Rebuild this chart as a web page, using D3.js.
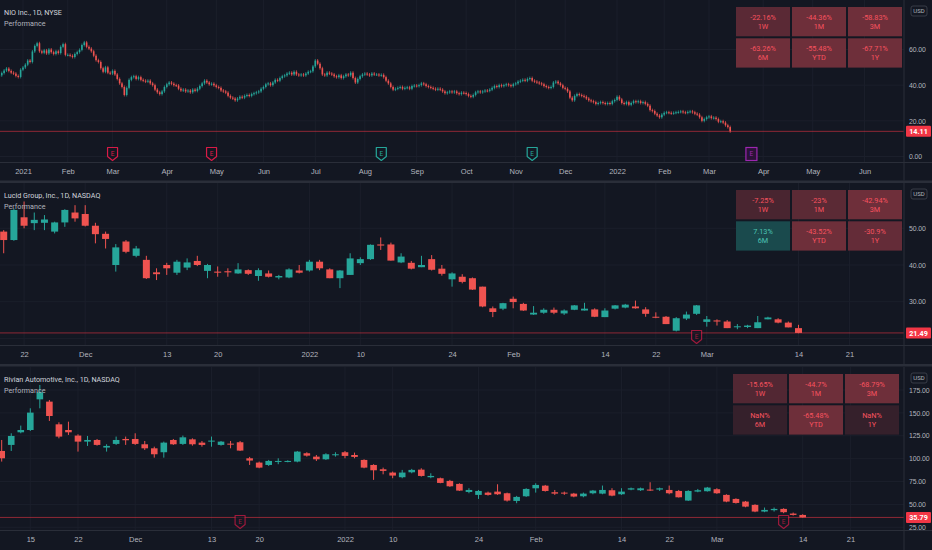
<!DOCTYPE html>
<html lang="en">
  <head>
    <meta charset="UTF-8" />
    <title>EV performance</title>
    <script src="https://cdn.jsdelivr.net/npm/d3@7.9.0/dist/d3.min.js"></script>
    <style>
      body { margin: 0; background: #131722; }
      svg { display: block; font-family: Roboto, 'Noto Sans', sans-serif; }
    </style>
  </head>
  <body>
    <svg width="932" height="550"></svg>
  </body>

  <script>
    // exchange holidays (only past ones: future bars are plain weekdays)
    var holidays = ['2020-12-25', '2021-01-01', '2021-01-18', '2021-02-15', '2021-04-02', '2021-05-31',
      '2021-07-05', '2021-09-06', '2021-11-25', '2021-12-24', '2022-01-17', '2022-02-21'];
    var perfLabels = ['1W', '1M', '3M', '6M', 'YTD', '1Y'];

    // ---- NIO, daily closes from 2020-12-17 ----
    var nioTitle = 'NIO Inc., 1D, NYSE';
    var nioStart = '2020-12-17';
    var nioFirstOpen = 45.0;
    var nioClose = [
      45.5, 46.8, 48.2, 49.3, 48.0, 47.0, 46.5, 45.2, 44.6, 48.7, // dec
      49.9, 51.5, 53.8, 53.0, 58.9, 62.0, 63.5, 59.0, 58.2, 59.5, 57.8, 60.0, 58.5, 57.5, 59.0, 58.0, 61.5, 63.0, 57.0, // jan
      57.0, 56.5, 55.8, 57.5, 58.5, 59.8, 62.5, 64.0, 61.5, 60.5, 59.0, 56.5, 54.0, 53.0, 49.5, 47.5, 50.0, 47.0, 46.5, // feb
      48.0, 46.0, 43.5, 41.0, 39.0, 34.5, 38.5, 43.0, 44.5, 45.0, 43.5, 44.5, 43.0, 42.5, 42.0, 42.5, 41.0, 40.0, 37.5, 36.0, 35.0, 36.5, 39.0, // mar
      40.5, 41.5, 40.8, 40.0, 39.8, 38.0, 37.0, 37.5, 36.5, 37.0, 36.0, 37.5, 36.8, 38.0, 39.5, 41.0, 42.5, 41.5, 40.5, 40.8, 39.9, // apr
      39.0, 38.5, 37.0, 36.5, 35.8, 34.0, 33.0, 32.5, 31.5, 32.5, 33.5, 33.0, 34.0, 34.5, 34.0, 35.0, 35.5, 36.0, 36.5, 38.0, // may
      39.0, 40.5, 41.0, 40.0, 41.5, 43.0, 42.5, 44.0, 45.0, 45.5, 46.5, 47.0, 46.0, 47.5, 46.0, 45.5, 46.0, 45.5, 46.5, 47.5, 47.8, 50.5, // jun
      53.8, 52.0, 49.5, 46.0, 45.5, 47.0, 46.5, 46.0, 45.0, 44.5, 45.5, 44.0, 45.0, 46.0, 45.5, 47.0, 44.0, 41.5, 43.5, 45.0, 46.0, // jul
      46.5, 46.0, 45.5, 46.5, 46.0, 46.0, 45.5, 45.8, 44.5, 42.5, 41.0, 39.0, 37.5, 38.0, 38.5, 39.0, 38.0, 38.5, 38.8, 38.0, 39.5, 39.8, // aug
      39.5, 40.0, 41.0, 40.5, 39.5, 39.0, 38.5, 38.0, 37.5, 38.0, 37.5, 36.5, 35.5, 36.0, 36.5, 36.0, 36.5, 35.5, 35.0, 35.8, 35.6, // sep
      35.0, 34.0, 33.5, 34.5, 36.0, 36.5, 36.0, 36.5, 37.0, 36.8, 37.5, 38.5, 39.5, 39.0, 40.0, 39.5, 40.0, 40.5, 40.0, 39.5, 40.5, // oct
      41.0, 42.0, 42.5, 43.0, 42.5, 43.5, 44.0, 42.5, 42.0, 41.5, 41.0, 40.5, 39.5, 39.0, 38.5, 39.0, 41.5, 42.0, 41.0, 40.0, 38.5, // nov
      38.0, 36.5, 33.0, 31.5, 34.0, 35.0, 34.5, 34.0, 33.5, 32.5, 31.5, 31.0, 30.5, 29.5, 30.0, 30.5, 30.0, 29.5, 30.0, 29.5, 31.0, 31.7, // dec
      33.5, 32.0, 30.0, 29.5, 30.5, 29.0, 30.0, 31.0, 30.5, 31.0, 30.0, 30.5, 29.5, 28.5, 26.0, 25.5, 24.0, 23.0, 22.0, 23.5, // jan 22
      24.5, 24.8, 24.5, 24.2, 24.5, 24.8, 25.0, 25.3, 24.8, 24.5, 25.0, 25.3, 24.8, 24.0, 23.5, 22.0, 20.0, 21.0, 22.0, // feb 22
      22.5, 21.5, 21.8, 21.0, 19.5, 19.8, 19.0, 17.5, 16.5, 14.11 // mar 22
    ];
    var nioPerf = [-22.16, -44.36, -58.83, -63.26, -55.48, -67.71];
    var nioPriceTicks = [0, 20, 40, 60];
    var nioTimeTicks = [['2021-01-04', '2021'], ['2021-02-01', 'Feb'], ['2021-03-01', 'Mar'], ['2021-04-01', 'Apr'],
      ['2021-05-03', 'May'], ['2021-06-01', 'Jun'], ['2021-07-01', 'Jul'], ['2021-08-02', 'Aug'], ['2021-09-01', 'Sep'],
      ['2021-10-01', 'Oct'], ['2021-11-01', 'Nov'], ['2021-12-01', 'Dec'], ['2022-01-03', '2022'], ['2022-02-01', 'Feb'],
      ['2022-03-01', 'Mar'], ['2022-04-01', 'Apr'], ['2022-05-02', 'May'], ['2022-06-01', 'Jun']];
    var nioEarnings = [['2021-03-01', 'miss'], ['2021-04-29', 'miss'], ['2021-08-11', 'beat'], ['2021-11-10', 'beat'], ['2022-03-25', 'next']];

    // ---- Lucid, daily OHLC from 2021-11-18 ----
    var lcidTitle = 'Lucid Group, Inc., 1D, NASDAQ';
    var lcidStart = '2021-11-18';
    var lcidOpen = [49.1, 46.8, 53.0, 51.4, 51.5, 49.1, 51.6, 54.3, 53.9, 50.7, 48.5, 40.0, 46.4, 42.5, 41.4, 38.0, 40.0, 37.9, 39.3, 41.1,
      38.4, 38.2, 38.3, 37.7, 38.6, 37.0, 37.7, 36.6, 36.6, 38.5, 38.5, 40.9, 38.8, 36.4, 37.3, 40.5, 41.6, 45.6, 45.6, 40.7,
      40.6, 39.4, 41.6, 39.0, 36.1, 36.8, 36.4, 34.1, 28.2, 28.1, 30.8, 29.4, 26.5, 27.0, 27.8, 26.8, 27.8, 27.6, 27.9, 25.8,
      28.1, 28.4, 28.7, 27.9, 25.9, 25.9, 22.1, 25.4, 26.7, 24.5, 24.9, 24.6, 23.1, 23.1, 22.8, 25.2, 25.2, 24.3, 22.8];
    var lcidHigh = [49.5, 55.4, 57.3, 54.3, 53.6, 51.8, 55.2, 56.3, 56.3, 51.5, 49.1, 45.7, 46.8, 45.2, 42.5, 39.1, 40.6, 41.4, 41.8, 42.5,
      40.3, 39.6, 39.1, 40.5, 38.8, 39.1, 38.5, 37.3, 39.1, 40.0, 41.4, 41.4, 39.1, 38.6, 43.2, 42.1, 45.6, 47.5, 46.1, 43.2,
      41.1, 42.5, 42.7, 40.0, 38.0, 37.5, 36.6, 34.1, 28.7, 29.7, 31.4, 29.7, 28.8, 28.2, 28.4, 27.9, 29.1, 29.7, 28.2, 28.2,
      29.1, 29.4, 30.3, 28.5, 27.1, 26.1, 25.8, 27.3, 29.1, 26.1, 25.2, 25.0, 23.9, 23.7, 26.1, 25.9, 25.5, 24.6, 23.7];
    var lcidLow = [43.2, 46.6, 50.0, 49.5, 49.5, 48.6, 50.4, 51.8, 50.5, 45.9, 44.5, 38.2, 43.2, 42.1, 36.2, 35.9, 37.3, 37.3, 38.6, 39.7,
      36.4, 36.8, 36.8, 37.6, 37.3, 35.7, 36.6, 36.1, 36.4, 37.7, 38.2, 38.6, 36.4, 33.7, 37.3, 40.0, 41.4, 44.1, 41.2, 40.5,
      38.8, 39.4, 38.5, 37.1, 34.1, 35.0, 33.2, 28.5, 25.8, 27.7, 28.2, 27.5, 26.4, 26.7, 26.6, 26.4, 27.7, 27.6, 25.8, 25.8,
      27.9, 28.2, 28.1, 25.9, 25.5, 23.9, 21.9, 25.0, 26.4, 23.2, 23.5, 22.8, 22.5, 22.8, 22.8, 25.2, 24.1, 23.0, 21.4];
    var lcidClose = [46.8, 55.0, 50.7, 52.3, 52.4, 51.6, 55.0, 52.7, 50.7, 48.4, 47.1, 44.8, 43.6, 44.5, 36.4, 37.5, 39.1, 40.9, 40.7, 40.0,
      40.0, 37.9, 38.0, 38.8, 37.6, 38.6, 36.8, 37.0, 38.8, 37.9, 40.9, 39.1, 36.4, 38.5, 41.8, 41.6, 45.5, 45.3, 41.2, 42.3,
      39.0, 40.0, 38.7, 37.6, 37.7, 35.4, 33.3, 28.7, 27.2, 29.6, 29.9, 27.6, 27.0, 27.8, 27.0, 27.6, 29.0, 28.1, 25.9, 27.6,
      29.0, 29.2, 28.2, 26.7, 25.7, 23.9, 25.5, 26.5, 29.0, 25.2, 24.6, 22.8, 23.3, 23.5, 24.4, 25.7, 24.3, 23.0, 21.49];
    var lcidPerf = [-7.25, -23, -42.94, 7.13, -43.52, -30.9];
    var lcidPriceTicks = [20, 30, 40, 50];
    var shortTicks = [['2021-11-22', '22'], ['2021-12-01', 'Dec'], ['2021-12-13', '13'], ['2021-12-20', '20'],
      ['2022-01-03', '2022'], ['2022-01-10', '10'], ['2022-01-24', '24'], ['2022-02-01', 'Feb'], ['2022-02-14', '14'],
      ['2022-02-22', '22'], ['2022-03-01', 'Mar'], ['2022-03-14', '14'], ['2022-03-21', '21']];
    var lcidEarnings = [['2022-02-28', 'miss']];

    // ---- Rivian, daily OHLC from 2021-11-10 (IPO) ----
    var rivnTitle = 'Rivian Automotive, Inc., 1D, NASDAQ';
    var rivnStart = '2021-11-10';
    var rivnOpen = [108.4, 115.0, 128.8, 131.3, 164.8, 162.3, 137.5, 131.3, 125.2, 118.6, 120.4, 112.1, 116.1, 121.5, 121.5, 115.7, 111.3,
      107.0, 120.4, 116.1, 121.1, 117.5, 118.6, 115.0, 116.4, 117.9, 100.4, 95.7, 93.1, 96.8, 96.4, 96.8, 105.9, 102.2, 99.3, 103.7,
      107.0, 104.0, 98.6, 93.1, 88.4, 84.8, 79.7, 85.1, 88.0, 79.7, 78.6, 75.7, 72.4, 63.6, 60.4, 62.9, 64.0, 62.2, 53.8, 58.9,
      67.6, 70.5, 63.3, 62.9, 61.8, 58.9, 62.2, 61.8, 65.5, 61.1, 66.2, 65.5, 66.2, 66.2, 65.8, 64.7, 54.2, 64.0, 64.4, 66.6,
      60.4, 56.0, 53.1, 49.5, 42.2, 43.7, 45.1, 40.0, 38.5];
    var rivnHigh = [120.4, 127.7, 136.1, 155.0, 180.5, 164.1, 139.7, 140.4, 126.6, 124.8, 121.5, 115.7, 124.1, 124.1, 127.7, 119.3, 113.1,
      118.6, 121.5, 125.2, 122.2, 119.3, 124.1, 119.3, 119.3, 119.3, 101.9, 96.8, 98.6, 100.4, 98.2, 108.4, 107.0, 104.0, 105.9, 107.0,
      108.4, 106.6, 99.3, 93.9, 90.2, 85.9, 87.7, 88.8, 89.5, 84.0, 79.3, 76.8, 73.1, 67.7, 65.8, 64.0, 72.0, 62.9, 59.3, 67.7,
      73.1, 71.3, 65.8, 64.0, 62.6, 62.9, 65.8, 70.6, 67.7, 67.7, 68.4, 68.4, 74.2, 68.4, 70.6, 65.8, 65.5, 66.9, 69.1, 67.7,
      61.1, 56.7, 53.8, 50.2, 46.6, 46.6, 45.8, 41.1, 39.3];
    var rivnLow = [96.8, 108.4, 127.7, 130.2, 155.0, 141.2, 122.2, 125.9, 107.7, 113.9, 114.2, 107.7, 115.0, 115.0, 115.0, 109.5, 101.1,
      101.1, 115.0, 115.0, 114.2, 113.1, 113.1, 114.2, 111.3, 108.4, 93.1, 89.5, 92.0, 93.9, 96.0, 96.0, 102.2, 97.5, 98.6, 102.2,
      100.4, 100.4, 89.5, 76.8, 82.9, 78.6, 78.6, 84.0, 80.4, 78.6, 73.1, 69.1, 64.7, 62.2, 56.0, 59.6, 60.4, 53.1, 51.3, 58.2,
      62.9, 64.0, 60.4, 60.4, 57.8, 57.8, 61.1, 61.1, 58.9, 60.4, 65.5, 64.7, 64.7, 64.7, 61.1, 57.5, 53.8, 63.3, 64.0, 61.5,
      52.4, 50.9, 46.9, 41.5, 41.5, 42.2, 40.4, 37.8, 35.6];
    var rivnClose = [100.4, 124.8, 131.3, 150.3, 172.5, 146.6, 124.1, 128.8, 118.6, 120.4, 115.0, 113.9, 120.4, 120.1, 116.1, 111.3, 104.8,
      117.5, 115.7, 123.3, 115.7, 115.0, 119.7, 118.6, 115.7, 108.8, 97.9, 90.2, 97.5, 97.5, 97.5, 107.7, 103.3, 99.3, 104.8, 104.8,
      103.0, 101.9, 90.2, 87.3, 86.6, 81.5, 84.8, 87.7, 81.1, 81.1, 73.5, 69.8, 65.1, 65.8, 64.7, 60.4, 61.1, 54.2, 58.2, 66.9,
      71.3, 64.7, 61.8, 61.8, 58.6, 61.8, 65.1, 65.8, 59.6, 64.0, 67.6, 67.6, 65.5, 67.6, 62.2, 57.8, 64.7, 65.5, 68.4, 62.2,
      53.1, 51.6, 47.6, 42.2, 44.0, 45.1, 41.5, 38.5, 35.79];
    var rivnPerf = [-15.65, -44.7, -68.79, NaN, -65.48, NaN];
    var rivnPriceTicks = [25, 50, 75, 100, 125, 150, 175];
    var rivnTimeTicks = [['2021-11-15', '15']].concat(shortTicks);
    var rivnEarnings = [['2021-12-16', 'miss'], ['2022-03-10', 'miss']];

    // ---------- drawing ----------
    var svg = d3.select('svg');
    var W = 932, axisX = 904;
    var bg = '#131722', up = '#26a69a', down = '#ef5350', lineCol = '#2a2e39', gridCol = '#1b1f2b';
    var textCol = '#b2b5be';
    var parse = d3.utcParse('%Y-%m-%d'), fmt = d3.utcFormat('%Y-%m-%d');

    function calendar(start, end) {
      var hol = new Set(holidays);
      return d3.utcDays(parse(start), d3.utcDay.offset(parse(end), 1))
        .filter(function (d) { return d.getUTCDay() % 6 !== 0; })
        .map(fmt)
        .filter(function (s) { return !hol.has(s); });
    }

    var redA = d3.scaleLinear().domain([0, 40]).range([0.2, 0.4]).clamp(true);
    function cellFill(v) {
      if (isNaN(v)) return d3.interpolateRgb(bg, '#f7525f')(0.15);
      if (v >= 0) return d3.interpolateRgb(bg, '#26a69a')(0.36);
      return d3.interpolateRgb(bg, '#f7525f')(redA(-v));
    }

    function drawPanel(p) {
      var g = svg.append('g');
      var days = calendar(p.start, '2022-06-30');
      var index = new Map(days.map(function (d, i) { return [d, i]; }));
      var x = d3.scaleLinear().domain([0, p.bars.length - 1]).range([p.x0, p.xLast]);
      var y = d3.scaleLinear().domain(p.yDomain).range(p.yRange);

      var clipId = 'clip' + p.top;
      svg.append('clipPath').attr('id', clipId)
        .append('rect').attr('x', 0).attr('y', p.top).attr('width', axisX).attr('height', p.bottom - p.top);

      // grid
      var tickIdx = p.timeTicks.map(function (t) { return index.get(t[0]); });
      var grid = g.append('g').attr('clip-path', 'url(#' + clipId + ')');
      grid.selectAll('.vg').data(tickIdx).enter().append('line')
        .attr('x1', function (d) { return x(d); }).attr('x2', function (d) { return x(d); })
        .attr('y1', p.top).attr('y2', p.bottom).attr('stroke', gridCol);
      grid.selectAll('.hg').data(p.priceTicks).enter().append('line')
        .attr('x1', 0).attr('x2', axisX)
        .attr('y1', function (d) { return y(d); }).attr('y2', function (d) { return y(d); })
        .attr('stroke', gridCol);

      // last price line
      var last = p.bars[p.bars.length - 1].c;
      g.append('line').attr('x1', 0).attr('x2', axisX).attr('y1', y(last)).attr('y2', y(last))
        .attr('stroke', '#f23645').attr('stroke-opacity', 0.55);

      // candles
      var cg = g.append('g').attr('clip-path', 'url(#' + clipId + ')');
      var c = cg.selectAll('g').data(p.bars).enter().append('g')
        .attr('fill', function (d) { return d.c >= d.o ? up : down; })
        .attr('stroke', function (d) { return d.c >= d.o ? up : down; });
      c.append('line')
        .attr('x1', function (d, i) { return x(i); }).attr('x2', function (d, i) { return x(i); })
        .attr('y1', function (d) { return d.h != null ? y(d.h) : y(Math.max(d.o, d.c)) - 1.5; })
        .attr('y2', function (d) { return d.l != null ? y(d.l) : y(Math.min(d.o, d.c)) + 1.5; })
        .attr('stroke-width', p.wick);
      c.append('rect')
        .attr('x', function (d, i) { return x(i) - p.body / 2; })
        .attr('width', p.body)
        .attr('y', function (d) { return y(Math.max(d.o, d.c)); })
        .attr('height', function (d) { return Math.max(1, Math.abs(y(d.o) - y(d.c))); })
        .attr('stroke', 'none');

      // earnings flags
      p.earnings.forEach(function (e) {
        var cx = x(index.get(e[0])), by = p.bottom - 2;
        var col = e[1] === 'beat' ? up : e[1] === 'next' ? '#9c27b0' : '#d81b47';
        var fg = g.append('g').attr('opacity', p.flagOpacity);
        if (e[1] === 'next') {
          fg.append('rect').attr('x', cx - 5.5).attr('y', by - 13).attr('width', 11).attr('height', 13)
            .attr('fill', '#2b1238').attr('stroke', col).attr('stroke-width', 1.2);
        } else {
          fg.append('path')
            .attr('d', 'M' + (cx - 5) + ',' + (by - 13) + 'h10v9l-5,4l-5,-4z')
            .attr('fill', bg).attr('stroke', col).attr('stroke-width', 1.2).attr('stroke-linejoin', 'round');
        }
        fg.append('text').attr('x', cx).attr('y', by - 4.5).attr('text-anchor', 'middle')
          .attr('font-size', 6.5).attr('fill', col).text('E');
      });

      // time axis
      g.append('line').attr('x1', 0).attr('x2', W).attr('y1', p.bottom).attr('y2', p.bottom).attr('stroke', lineCol);
      var xAxis = d3.axisBottom(x).tickValues(tickIdx).tickSize(0).tickPadding(6)
        .tickFormat(function (d, i) { return p.timeTicks[i][1]; });
      var xa = g.append('g').attr('transform', 'translate(0,' + p.bottom + ')').call(xAxis);
      xa.select('.domain').remove();
      xa.selectAll('text').attr('fill', textCol).attr('font-size', 7.5).attr('font-family', null);

      // price axis (labels that would sit under the last-price tag are skipped)
      g.append('line').attr('x1', axisX).attr('x2', axisX).attr('y1', p.top).attr('y2', p.top + p.height)
        .attr('stroke', lineCol);
      var labelTicks = p.priceTicks.filter(function (t) { return Math.abs(y(t) - y(last)) > 8; });
      var yAxis = d3.axisRight(y).tickValues(labelTicks).tickSize(0).tickPadding(5).tickFormat(d3.format('.2f'));
      var ya = g.append('g').attr('transform', 'translate(' + axisX + ',0)').call(yAxis);
      ya.select('.domain').remove();
      ya.selectAll('text').attr('fill', textCol).attr('font-size', 6.9).attr('letter-spacing', -0.1).attr('font-family', null);

      // USD badge
      g.append('rect').attr('x', 911).attr('y', p.top + 6).attr('width', 16).attr('height', 10).attr('rx', 2)
        .attr('fill', bg).attr('stroke', '#434651').attr('stroke-width', 0.8);
      g.append('text').attr('x', 919).attr('y', p.top + 13.3).attr('text-anchor', 'middle')
        .attr('font-size', 6).attr('fill', textCol).text('USD');

      // last price label
      g.append('rect').attr('x', axisX + 2).attr('y', y(last) - 5.5).attr('width', 25).attr('height', 11)
        .attr('rx', 1).attr('fill', '#f23645');
      g.append('text').attr('x', axisX + 14.5).attr('y', y(last) + 2.7).attr('text-anchor', 'middle')
        .attr('font-size', 7.2).attr('font-weight', 'bold').attr('fill', '#fff').text(d3.format('.2f')(last));

      // legend
      g.append('text').attr('x', 4).attr('y', p.top + 14.5).attr('font-size', 7.2).attr('fill', '#d1d4dc').text(p.title);
      g.append('text').attr('x', 4).attr('y', p.top + 26).attr('font-size', 7.2).attr('fill', textCol).text('Performance');

      // performance table
      var cw = 54, ch = 29.3, gap = 2;
      var cells = g.selectAll('.cell').data(p.perf).enter().append('g')
        .attr('transform', function (d, i) {
          return 'translate(' + (p.tableX + (i % 3) * (cw + gap)) + ',' + (p.top + 7 + Math.floor(i / 3) * (ch + gap)) + ')';
        });
      cells.append('rect').attr('width', cw).attr('height', ch).attr('fill', cellFill);
      cells.append('text').attr('x', cw / 2).attr('y', 12.5).attr('text-anchor', 'middle').attr('font-size', 7.3)
        .attr('fill', function (d) { return d >= 0 ? '#4cc3b3' : '#f7525f'; })
        .text(function (d) { return String(d) + '%'; });
      cells.append('text').attr('x', cw / 2).attr('y', 21.8).attr('text-anchor', 'middle').attr('font-size', 7.3)
        .attr('fill', function (d) { return d >= 0 ? '#4cc3b3' : '#f7525f'; })
        .text(function (d, i) { return perfLabels[i]; });

      // panel separator
      svg.append('rect').attr('x', 0).attr('y', p.top + p.height).attr('width', W).attr('height', 2.5).attr('fill', lineCol);
    }

    function ohlc(o, h, l, cl) {
      return cl.map(function (v, i) { return { o: o[i], h: h[i], l: l[i], c: v }; });
    }

    drawPanel({
      title: nioTitle, start: nioStart, perf: nioPerf, priceTicks: nioPriceTicks, timeTicks: nioTimeTicks, earnings: nioEarnings,
      bars: nioClose.map(function (v, i) { return { o: i ? nioClose[i - 1] : nioFirstOpen, c: v }; }),
      top: 0, bottom: 162.5, height: 180.5, x0: -0.6, xLast: 730.2, yDomain: [0, 60], yRange: [156.5, 49.5],
      body: 1.6, wick: 0.7, tableX: 736, flagOpacity: 1
    });
    drawPanel({
      title: lcidTitle, start: lcidStart, perf: lcidPerf, priceTicks: lcidPriceTicks, timeTicks: shortTicks, earnings: lcidEarnings,
      bars: ohlc(lcidOpen, lcidHigh, lcidLow, lcidClose),
      top: 183, bottom: 345.5, height: 181, x0: 3.7, xLast: 798.5, yDomain: [30, 50], yRange: [301.7, 228.3],
      body: 7, wick: 1, tableX: 736, flagOpacity: 0.7
    });
    drawPanel({
      title: rivnTitle, start: rivnStart, perf: rivnPerf, priceTicks: rivnPriceTicks, timeTicks: rivnTimeTicks, earnings: rivnEarnings,
      bars: ohlc(rivnOpen, rivnHigh, rivnLow, rivnClose),
      top: 367, bottom: 530.5, height: 183, x0: 1.7, xLast: 802.7, yDomain: [25, 175], yRange: [527.3, 390],
      body: 6.6, wick: 1, tableX: 733, flagOpacity: 0.7
    });
  </script>
</html>
